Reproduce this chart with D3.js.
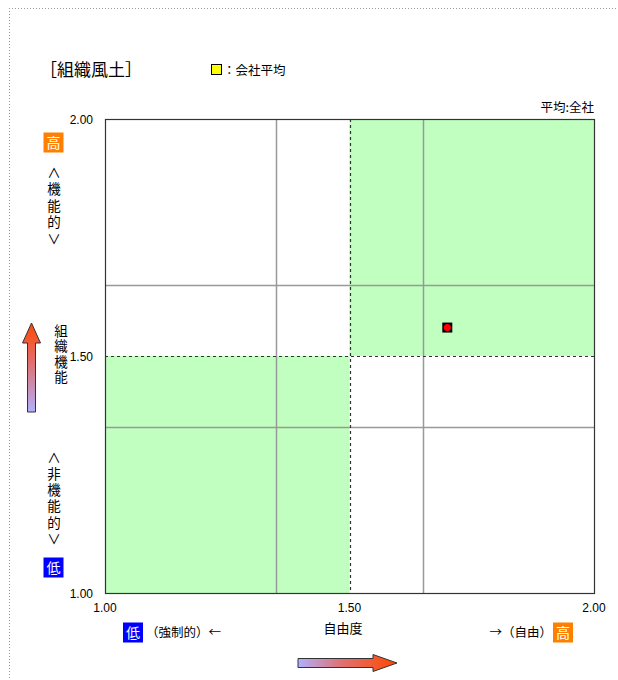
<!DOCTYPE html>
<html><head><meta charset="utf-8">
<script src="https://cdn.jsdelivr.net/npm/d3@7"></script>
<style>
body{margin:0;background:#fff;}
svg text{font-family:"Noto Sans CJK JP","Noto Sans",sans-serif;fill:#000;}
svg text.num{font-family:"Liberation Sans",Arial,sans-serif;}
svg text.vert{writing-mode:vertical-rl;text-orientation:upright;}
</style></head>
<body>
<script>
// ---- data ----
const xDomain = [1.0, 2.0];
const yDomain = [1.0, 2.0];
const xTicks = [1.0, 1.5, 2.0];
const yTicks = [1.0, 1.5, 2.0];
const gridValues = [1.35, 1.65];
const midValue = 1.5;
const zoneX0 = [1.5, 1.0];
const zoneX1 = [2.0, 1.5];
const zoneY0 = [1.5, 1.0];
const zoneY1 = [2.0, 1.5];
const pointNames = ["会社平均"];
const pointX = [1.70];
const pointY = [1.56];
const title = "［組織風土］";
const legendLabel = "：会社平均";
const avgLabel = "平均:全社";
const xLabel = "自由度";
const yTopLabel = "∧機能的∨";
const yMidLabel = "組織機能";
const yBotLabel = "∧非機能的∨";

const W = 618, H = 680;
const svg = d3.select("body").append("svg").attr("width", W).attr("height", H);

// dotted page border
svg.append("line").attr("x1",9.5).attr("x2",9.5).attr("y1",8).attr("y2",H)
  .attr("stroke","#999").attr("stroke-dasharray","1,2");
svg.append("line").attr("x1",9).attr("x2",W).attr("y1",8.5).attr("y2",8.5)
  .attr("stroke","#999").attr("stroke-dasharray","1,2");

const x = d3.scaleLinear().domain(xDomain).range([105, 594]);
const y = d3.scaleLinear().domain(yDomain).range([593, 119]);

// defs: gradients
const defs = svg.append("defs");
const gv = defs.append("linearGradient").attr("id","gv").attr("x1",0).attr("y1",1).attr("x2",0).attr("y2",0);
gv.append("stop").attr("offset","0%").attr("stop-color","#b0b0ff");
gv.append("stop").attr("offset","55%").attr("stop-color","#e07070");
gv.append("stop").attr("offset","100%").attr("stop-color","#ff4800");
const gh = defs.append("linearGradient").attr("id","gh").attr("x1",0).attr("y1",0).attr("x2",1).attr("y2",0);
gh.append("stop").attr("offset","0%").attr("stop-color","#b0b0ff");
gh.append("stop").attr("offset","45%").attr("stop-color","#e07070");
gh.append("stop").attr("offset","100%").attr("stop-color","#ff4800");

// title & legend
svg.append("text").attr("x",40).attr("y",76).attr("font-size",17).text(title);
svg.append("rect").attr("x",211.5).attr("y",64.5).attr("width",10).attr("height",10)
  .attr("fill","#ffff00").attr("stroke","#000");
svg.append("text").attr("x",223).attr("y",75).attr("font-size",12.5).text(legendLabel);
svg.append("text").attr("x",594).attr("y",112).attr("text-anchor","end").attr("font-size",12.5).text(avgLabel);

// plot background
const plot = svg.append("g");
plot.append("rect").attr("x",x(1)).attr("y",y(2)).attr("width",x(2)-x(1)).attr("height",y(1)-y(2)).attr("fill","#fff");
plot.selectAll("rect.zone").data(zoneX0.map((d,i)=>i)).enter().append("rect")
  .attr("class","zone")
  .attr("x",i=>x(zoneX0[i])).attr("y",i=>y(zoneY1[i]))
  .attr("width",i=>x(zoneX1[i])-x(zoneX0[i])).attr("height",i=>y(zoneY0[i])-y(zoneY1[i]))
  .attr("fill","#c0ffc0");

// grid lines
plot.selectAll("line.gx").data(gridValues).enter().append("line")
  .attr("x1",d=>Math.round(x(d))+0.5).attr("x2",d=>Math.round(x(d))+0.5)
  .attr("y1",y(2)).attr("y2",y(1)).attr("stroke","#999").attr("stroke-width",1.5);
plot.selectAll("line.gy").data(gridValues).enter().append("line")
  .attr("y1",d=>Math.round(y(d))+0.5).attr("y2",d=>Math.round(y(d))+0.5)
  .attr("x1",x(1)).attr("x2",x(2)).attr("stroke","#999").attr("stroke-width",1.5);

// mid dashed lines
plot.append("line").attr("x1",Math.round(x(midValue))+0.5).attr("x2",Math.round(x(midValue))+0.5)
  .attr("y1",y(2)).attr("y2",y(1)).attr("stroke","#333").attr("stroke-width",1.2).attr("stroke-dasharray","3,3");
plot.append("line").attr("y1",Math.round(y(midValue))+0.5).attr("y2",Math.round(y(midValue))+0.5)
  .attr("x1",x(1)).attr("x2",x(2)).attr("stroke","#333").attr("stroke-width",1.2).attr("stroke-dasharray","3,3");

// frame
plot.append("rect").attr("x",x(1)+0.5).attr("y",y(2)+0.5).attr("width",x(2)-x(1)).attr("height",y(1)-y(2))
  .attr("fill","none").attr("stroke","#333").attr("stroke-width",1.2);

// axes tick labels
svg.selectAll("text.yt").data(yTicks).enter().append("text").attr("class","num")
  .attr("x",93).attr("y",d=>y(d)+4.5).attr("text-anchor","end").attr("font-size",12)
  .text(d=>d.toFixed(2));
svg.selectAll("text.xt").data(xTicks).enter().append("text").attr("class","num")
  .attr("x",d=>x(d)).attr("y",612).attr("text-anchor","middle").attr("font-size",12)
  .text(d=>d.toFixed(2));

// points
const pts = svg.selectAll("g.pt").data(pointNames.map((d,i)=>i)).enter().append("g")
  .attr("transform",i=>`translate(${x(pointX[i])},${y(pointY[i])})`);
pts.append("rect").attr("x",-5).attr("y",-5).attr("width",10).attr("height",10).attr("fill","#000");
pts.append("circle").attr("r",3.6).attr("fill","#ff0000");

// badges
function badge(cx, cy, color, label){
  svg.append("rect").attr("x",cx-10).attr("y",cy-10).attr("width",20).attr("height",20).attr("fill",color);
  svg.append("text").attr("x",cx).attr("y",cy+5).attr("text-anchor","middle").attr("font-size",14)
    .style("fill","#fff").text(label);
}
badge(53.5, 142.5, "#ff8000", "高");
badge(53.5, 567.5, "#0000ff", "low" === "" ? "" : "低");
badge(133, 632.5, "#0000ff", "低");
badge(563, 632.5, "#ff8000", "高");

// vertical texts
function vtext(str, cx, yTop, size, spacing){
  svg.append("text").attr("class","vert").attr("x",cx).attr("y",yTop)
    .attr("font-size",size).attr("letter-spacing",spacing).text(str);
}
vtext(yTopLabel, 54, 166, 13.5, 3);
vtext(yMidLabel, 61, 324, 13.5, 2);
vtext(yBotLabel, 54, 451, 13.5, 2.7);

// bottom texts
svg.append("text").attr("x",146).attr("y",637).attr("font-size",12.5).text("（強制的）←");
svg.append("text").attr("x",552).attr("y",637).attr("text-anchor","end").attr("font-size",12.5).text("→（自由）");
svg.append("text").attr("x",343).attr("y",633).attr("text-anchor","middle").attr("font-size",13).text(xLabel);

// arrows
svg.append("path")
  .attr("d","M27.5,412 L27.5,343 L22.5,343 L31.5,323 L40.5,343 L35.5,343 L35.5,412 Z")
  .attr("fill","url(#gv)").attr("stroke","#333").attr("stroke-width",1);
svg.append("path")
  .attr("d","M298,658.5 L373,658.5 L373,654.5 L397,663 L373,671.5 L373,667.5 L298,667.5 Z")
  .attr("fill","url(#gh)").attr("stroke","#333").attr("stroke-width",1);
</script>
</body></html>
